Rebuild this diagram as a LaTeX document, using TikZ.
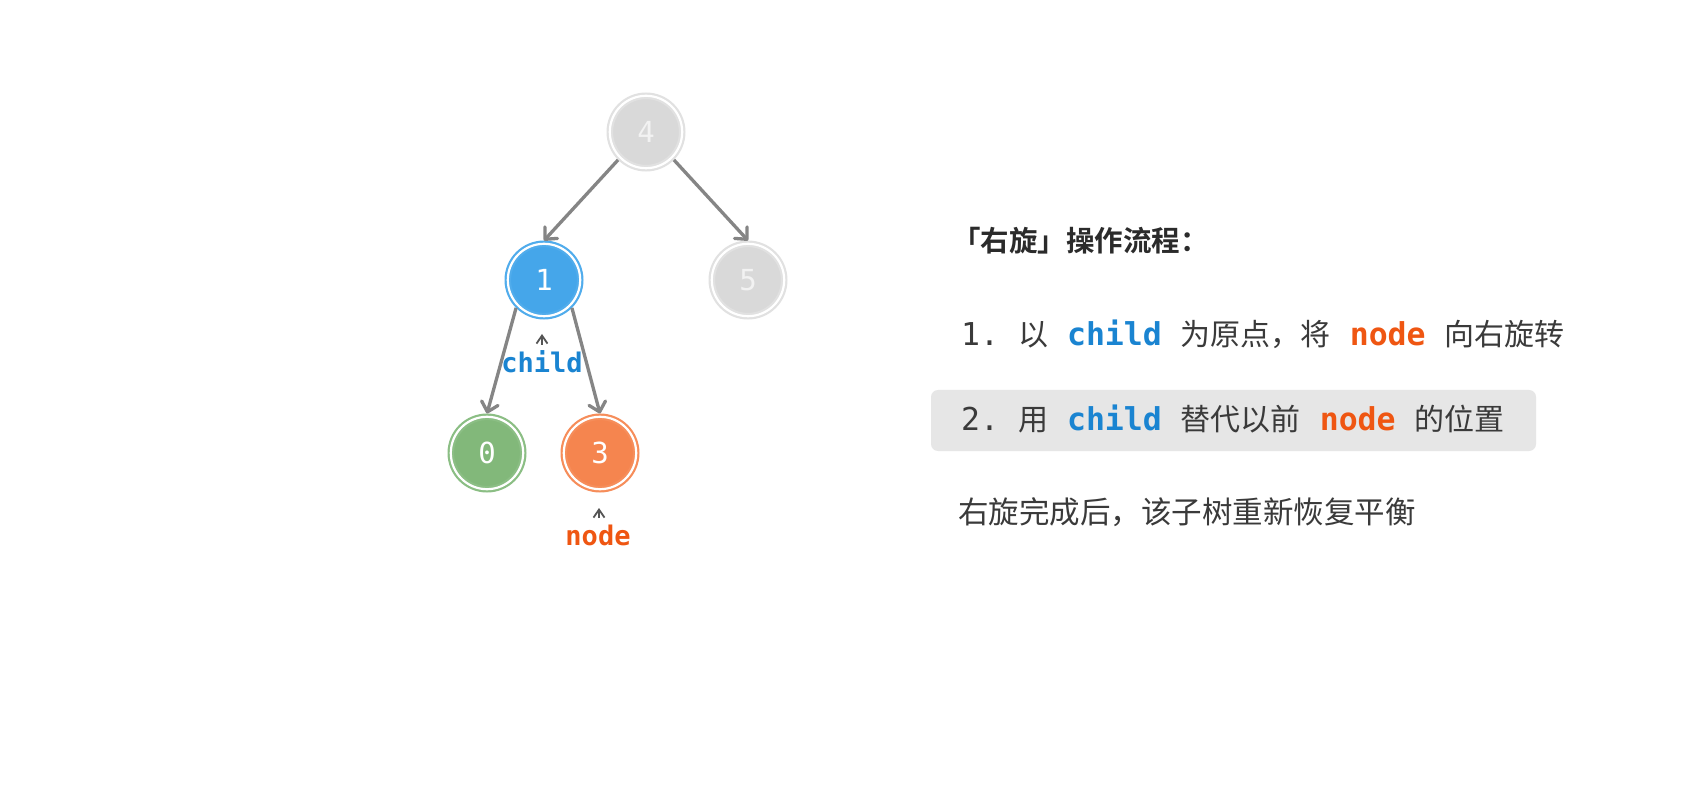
\documentclass[tikz,border=0pt]{standalone}
\usepackage{fontspec}
\usetikzlibrary{arrows.meta}
\newfontfamily\cjk{Noto Sans CJK SC}[BoldFont={Noto Sans CJK SC Bold}]
\newfontfamily\mono{DejaVu Sans Mono}[Scale=1.05]
\newfontfamily\monot{DejaVu Sans Mono}
\definecolor{txt}{HTML}{3A3A3A}
\definecolor{ttl}{HTML}{2B2B2B}
\definecolor{cblue}{HTML}{1A84D1}
\definecolor{corange}{HTML}{EF5612}
\definecolor{cgray}{HTML}{D9D9D9}
\definecolor{cgrayr}{HTML}{E1E1E1}
\definecolor{nblue}{HTML}{45A6EA}
\definecolor{nbluer}{HTML}{50ACEC}
\definecolor{ngreen}{HTML}{82B87A}
\definecolor{ngreenr}{HTML}{8BBE84}
\definecolor{norange}{HTML}{F5854F}
\definecolor{noranger}{HTML}{F68D5A}
\definecolor{cedge}{HTML}{858585}
\definecolor{ccaret}{HTML}{555555}
\definecolor{cbox}{HTML}{E6E6E6}
\newcommand\zh[1]{{\cjk #1}}
\newcommand\mo[1]{{\mono #1}}
\newcommand\kw[2]{{\mono\bfseries\color{#1}#2}}
\begin{document}
\begin{tikzpicture}[x=1pt,y=-1pt,
  tnode/.style={circle, minimum size=72.4pt, inner sep=0pt, outer sep=3.3pt,
    line width=2.2pt, double distance=2.2pt, double=white,
    font=\monot\fontsize{29}{29}\selectfont, text=white},
  graynode/.style={tnode, fill=cgray, draw=cgrayr, text=white!95!black},
  bluenode/.style={tnode, fill=nblue, draw=nbluer},
  greennode/.style={tnode, fill=ngreen, draw=ngreenr},
  orangenode/.style={tnode, fill=norange, draw=noranger},
  edge/.style={draw=cedge, line width=3.3pt, line join=round,
    -{Straight Barb[length=9pt,width=17pt,line width=3.3pt, round]}},
  caret/.style={draw=ccaret, line width=1.8pt,
    -{Straight Barb[length=8pt,width=11pt,line width=1.8pt]}},
  lab/.style={inner sep=0pt, anchor=base, font=\monot\bfseries\fontsize{27}{27}\selectfont},
  body/.style={inner sep=0pt, anchor=base west, text=txt, font=\fontsize{30}{36}\selectfont},
  ]
\useasboundingbox (0,0) rectangle (1701,810);
\fill[white] (0,0) rectangle (1701,810);

% tree nodes
\node[graynode]   (n4) at (646,132) {4};
\node[bluenode]   (n1) at (544,280) {1};
\node[graynode]   (n5) at (748,280) {5};
\node[greennode]  (n0) at (487,453) {0};
\node[orangenode] (n3) at (600,453) {3};

\draw[edge] (n4.south west) -- (n1.north);
\draw[edge] (n4.south east) -- (n5.north);
\draw[edge] (n1.south west) -- (n0.north);
\draw[edge] (n1.south east) -- (n3.north);

% labels
\node[lab, text=cblue] (lchild) at (542,372.7) {child};
\node[lab, text=corange] (lnode) at (598,545) {node};
\coordinate (c1a) at (542,345);
\coordinate (c1b) at (542,334);
\coordinate (c2a) at (599,518);
\coordinate (c2b) at (599,508);
\draw[caret] (c1a) -- (c1b);
\draw[caret] (c2a) -- (c2b);

% right side text
\fill[cbox, rounded corners=7pt] (931,390) rectangle (1536,451);
\node[inner sep=0pt, anchor=base west, text=ttl, font=\fontsize{28.5}{32}\selectfont] (title) at (952,252)
  {{\cjk\bfseries 「右旋」操作流程：}};
\node[body] (s1) at (961,346)
  {\mo{1.\ }\zh{以}\mo{\ }\kw{cblue}{child}\mo{\ }\zh{为原点，将}\mo{\ }\kw{corange}{node}\mo{\ }\zh{向右旋转}};
\node[body] (s2) at (961,430)
  {\mo{2.\ }\zh{用}\mo{\ }\kw{cblue}{child}\mo{\ }\zh{替代以前}\mo{\ }\kw{corange}{node}\mo{\ }\zh{的位置}};
\node[body, font=\fontsize{30.5}{36}\selectfont] (s3) at (958,523)
  {\zh{右旋完成后，该子树重新恢复平衡}};
\end{tikzpicture}
\end{document}
